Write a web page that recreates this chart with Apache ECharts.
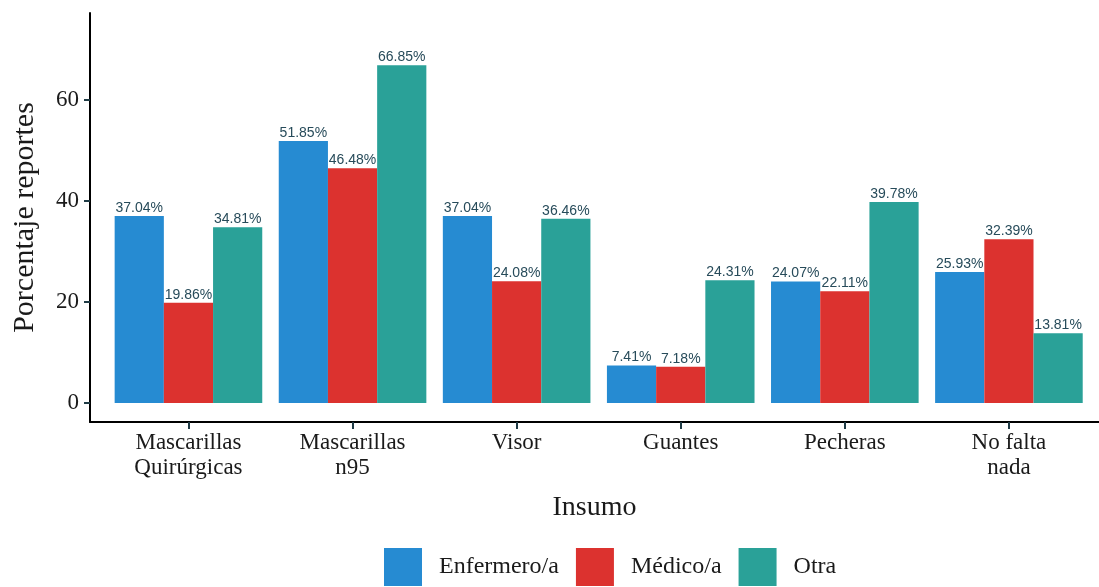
<!DOCTYPE html>
<html>
<head>
<meta charset="utf-8">
<script src="https://cdn.jsdelivr.net/npm/echarts@6/dist/echarts.min.js"></script>
<style>
html,body{margin:0;padding:0;background:#fff;}
#c{width:1099px;height:587px;}
</style>
</head>
<body>
<div id="c"></div>
<script>
var categories = ['Mascarillas\nQuirúrgicas', 'Mascarillas\nn95', 'Visor', 'Guantes', 'Pecheras', 'No falta\nnada'];
var seriesNames = ['Enfermero/a', 'Médico/a', 'Otra'];
var enfermero = [37.04, 51.85, 37.04, 7.41, 24.07, 25.93];
var medico = [19.86, 46.48, 24.08, 7.18, 22.11, 32.39];
var otra = [34.81, 66.85, 36.46, 24.31, 39.78, 13.81];
var yTicks = [0, 20, 40, 60];
var colors = ['#268bd2', '#dc322f', '#2aa198'];

var xIdx = categories.map(function (c, i) { return i; });
var serif = 'Liberation Serif';
var tickColor = '#1f3b45';

function mk(name, vals, color) {
  return {
    name: name,
    type: 'bar',
    barWidth: 49.2,
    barGap: '0%',
    itemStyle: { color: color },
    data: vals.map(function (v, i) { return [i, v]; }),
    label: {
      show: true,
      position: 'top',
      distance: 1,
      fontFamily: 'Liberation Sans',
      fontSize: 14,
      color: '#274b5a',
      formatter: function (p) { return p.value[1].toFixed(2) + '%'; }
    }
  };
}

var chart = echarts.init(document.getElementById('c'), null, { renderer: 'canvas' });
chart.setOption({
  animation: false,
  backgroundColor: '#ffffff',
  grid: { left: 90, top: 13, width: 1009, bottom: 165, containLabel: false },
  legend: {
    top: 543,
    left: 379,
    icon: 'rect',
    itemWidth: 38,
    itemHeight: 38,
    itemGap: 17,
    textStyle: { fontFamily: serif, fontSize: 24, color: '#1a1a1a', padding: [0, 0, 0, 12] },
    data: seriesNames
  },
  xAxis: {
    type: 'value',
    min: -0.6,
    max: 5.549,
    name: 'Insumo',
    nameLocation: 'middle',
    nameGap: 72,
    nameTextStyle: { fontFamily: serif, fontSize: 28, color: '#1a1a1a' },
    splitLine: { show: false },
    axisLine: { show: true, onZero: false, lineStyle: { color: '#000', width: 2 } },
    axisTick: { show: true, customValues: xIdx, length: 7, lineStyle: { color: tickColor, width: 2 } },
    axisLabel: {
      customValues: xIdx,
      margin: 8,
      fontFamily: serif,
      fontSize: 23,
      lineHeight: 25,
      color: '#1a1a1a',
      formatter: function (v) { return categories[Math.round(v)]; }
    }
  },
  yAxis: {
    type: 'value',
    min: -3.76,
    max: 77.2,
    name: 'Porcentaje reportes',
    nameLocation: 'middle',
    nameGap: 50,
    nameTextStyle: { fontFamily: serif, fontSize: 30, color: '#1a1a1a' },
    splitLine: { show: false },
    axisLine: { show: true, onZero: false, lineStyle: { color: '#000', width: 2 } },
    axisTick: { show: true, customValues: yTicks, length: 6, lineStyle: { color: tickColor, width: 2 } },
    axisLabel: {
      customValues: yTicks,
      margin: 11,
      fontFamily: serif,
      fontSize: 23,
      color: '#1a1a1a'
    }
  },
  series: [mk(seriesNames[0], enfermero, colors[0]), mk(seriesNames[1], medico, colors[1]), mk(seriesNames[2], otra, colors[2])]
});
</script>
</body>
</html>
